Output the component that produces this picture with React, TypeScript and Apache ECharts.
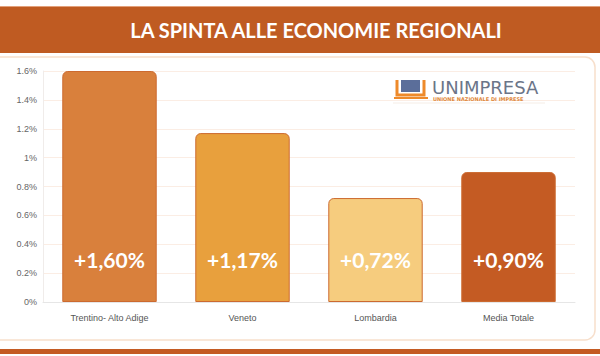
import React, { useEffect, useRef } from "react";
import * as echarts from "echarts";

const categories = ["Trentino- Alto Adige", "Veneto", "Lombardia", "Media Totale"];
const values = [1.6, 1.17, 0.72, 0.9];
const valueLabels = ["+1,60%", "+1,17%", "+0,72%", "+0,90%"];
const barColors = ["#D9803C", "#E8A03D", "#F6CC7E", "#C45B23"];
const titleText = "LA SPINTA ALLE ECONOMIE REGIONALI";

export default function App() {
  const ref = useRef<HTMLDivElement>(null);
  useEffect(() => {
    if (!ref.current) return;
    const chart = echarts.init(ref.current, undefined, { renderer: "svg" });
    chart.setOption({
      animation: false,
      backgroundColor: "#ffffff",
      graphic: [
        { type: "rect", z: 0, shape: { x: -10, y: 57, width: 605, height: 283, r: 10 }, style: { fill: "#ffffff", stroke: "#F7DFCC", lineWidth: 1.5 } },
        { type: "rect", z: 1, shape: { x: 0, y: 6, width: 600, height: 47 }, style: { fill: "#BF5B22" } },
        { type: "line", z: 2, shape: { x1: 0, y1: 6.5, x2: 600, y2: 6.5 }, style: { stroke: "#E3A07A", lineWidth: 1 } },
        { type: "rect", z: 1, shape: { x: 0, y: 349, width: 600, height: 5 }, style: { fill: "#C45B23" } },
        {
          type: "text", z: 3, x: 316, y: 30,
          style: { text: titleText, fill: "#ffffff", font: "bold 20px Lato, sans-serif", align: "center", verticalAlign: "middle" }
        },
        // logo
        { type: "polyline", z: 3, shape: { points: [[397, 80], [397, 95], [424, 95], [424, 80]] }, style: { stroke: "#EE8A2A", lineWidth: 3, fill: "none" } },
        { type: "rect", z: 3, shape: { x: 401, y: 80, width: 19, height: 12 }, style: { fill: "#5B6E9A" } },
        { type: "rect", z: 3, shape: { x: 394, y: 97, width: 34, height: 2 }, style: { fill: "#EE8A2A" } },
        {
          type: "text", z: 3, x: 432, y: 87,
          style: { text: "UNIMPRESA", fill: "#6B7588", font: "18px 'DejaVu Sans', sans-serif", align: "left", verticalAlign: "middle" }
        },
        {
          type: "text", z: 3, x: 433, y: 99,
          style: { text: "UNIONE NAZIONALE DI IMPRESE", fill: "#E0883A", font: "bold 5px 'DejaVu Sans', sans-serif", align: "left", verticalAlign: "middle" }
        },
        { type: "line", z: 3, shape: { x1: 393, y1: 103, x2: 545, y2: 103 }, style: { stroke: "#F5EDE6", lineWidth: 1 } }
      ],
      grid: { left: 43, right: 25, top: 71, bottom: 54 },
      xAxis: {
        type: "category",
        data: categories,
        axisLine: { show: true, lineStyle: { color: "#E6E6E6" } },
        axisTick: { show: false },
        axisLabel: { color: "#555555", fontSize: 9, margin: 11, fontFamily: "Liberation Sans, Arial, sans-serif" }
      },
      yAxis: {
        type: "value",
        min: 0,
        max: 1.6,
        interval: 0.2,
        axisLine: { show: true, lineStyle: { color: "#F0ECEA" } },
        axisTick: { show: false },
        splitLine: { lineStyle: { color: "#FBEDE4" } },
        axisLabel: {
          color: "#666666", fontSize: 9, margin: 6, fontFamily: "Liberation Sans, Arial, sans-serif",
          formatter: (v: number) => Math.round(v * 10) / 10 + "%"
        }
      },
      series: [
        {
          type: "bar",
          barWidth: "71%",
          data: values.map((v, i) => ({
            value: v,
            itemStyle: { color: barColors[i] },
            label: { formatter: valueLabels[i] }
          })),
          itemStyle: { borderRadius: [5, 5, 0, 0], borderColor: "#CC6A30", borderWidth: 1 },
          label: {
            show: true,
            position: "insideBottom",
            distance: 32,
            color: "#ffffff",
            fontSize: 21,
            fontWeight: "bold",
            fontFamily: "Lato, sans-serif"
          }
        }
      ]
    });
    return () => chart.dispose();
  }, []);
  return <div ref={ref} style={{ position: "fixed", left: 0, top: 0, width: 600, height: 356 }} />;
}
